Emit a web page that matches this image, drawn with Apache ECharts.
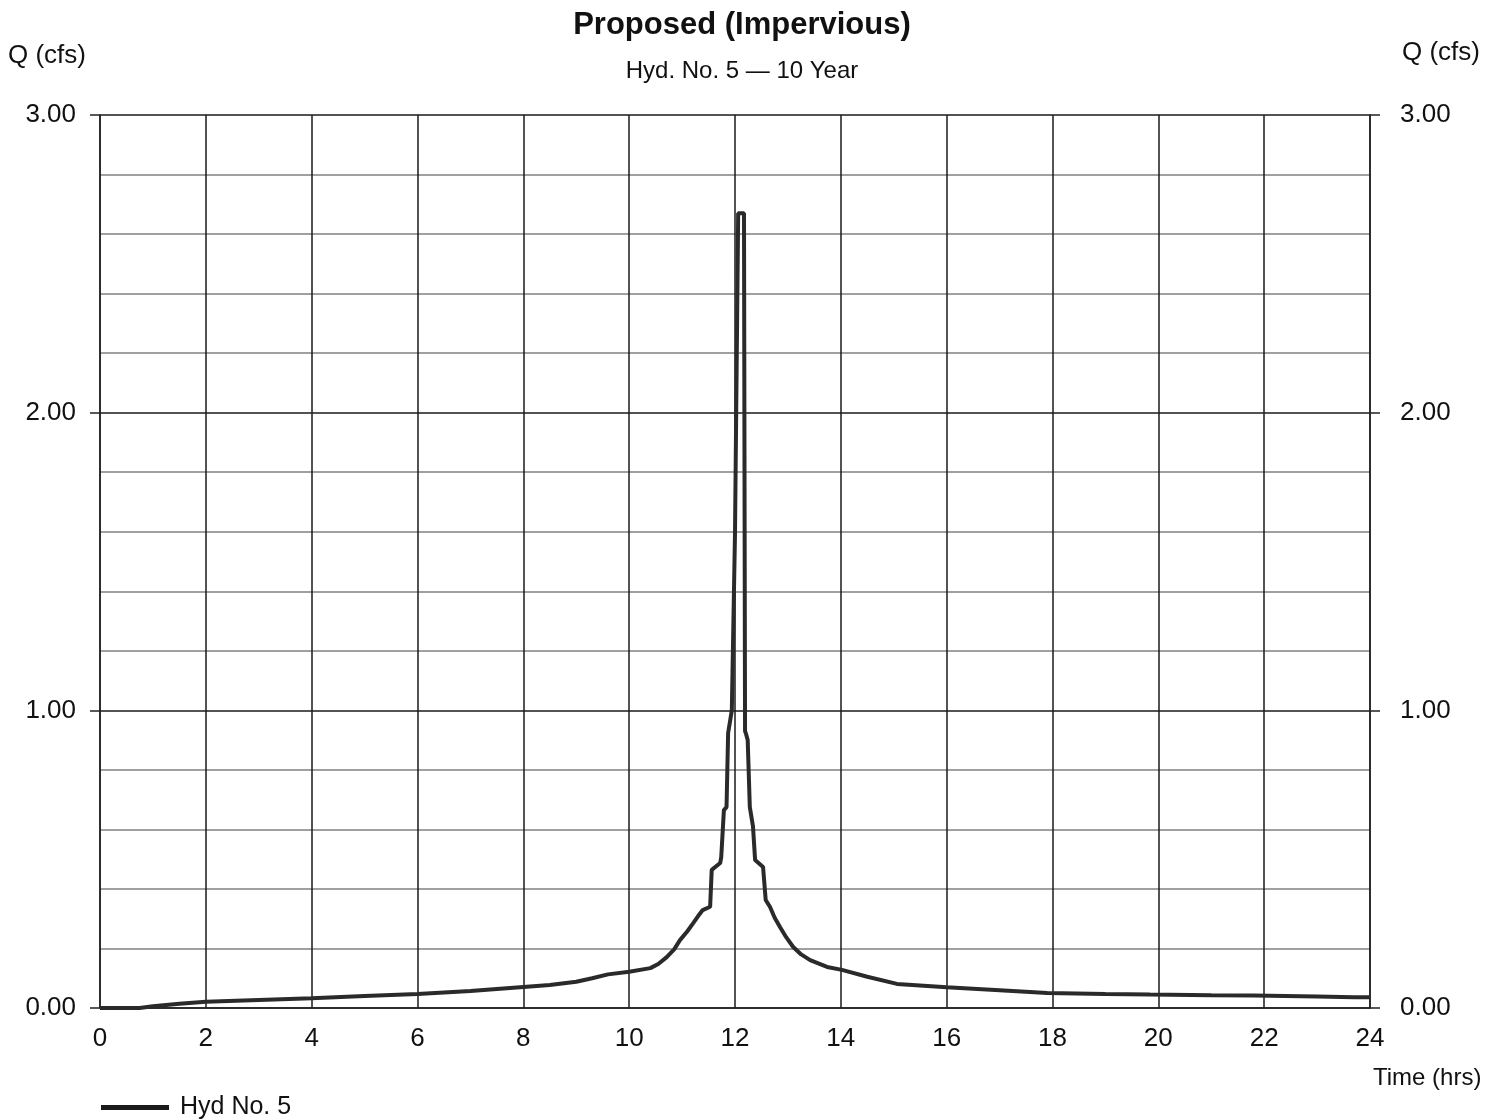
<!DOCTYPE html>
<html>
<head>
<meta charset="utf-8">
<style>html,body{margin:0;padding:0;background:#fff}#c{width:1508px;height:1120px}</style>
<script src="https://cdn.jsdelivr.net/npm/echarts@6/dist/echarts.min.js"></script>
</head>
<body>
<div id="c"></div>
<script>
var times = [0, 0.75, 1.0, 1.5, 2.0, 3.0, 4.0, 5.0, 6.0, 7.0, 7.75, 8.5, 9.0, 9.3, 9.6, 10.0, 10.4, 10.55, 10.71, 10.85, 10.96, 11.1, 11.21, 11.3, 11.39, 11.53, 11.56, 11.72, 11.74, 11.79, 11.84, 11.87, 11.94, 12.0, 12.06, 12.17, 12.19, 12.21, 12.24, 12.28, 12.34, 12.38, 12.53, 12.58, 12.66, 12.75, 12.85, 12.97, 13.1, 13.25, 13.42, 13.74, 14.02, 14.5, 15.06, 16.0, 17.0, 17.9, 19.0, 19.84, 21.0, 21.8, 23.0, 23.7, 24.0];
var flows = [0, 0, 0.006, 0.014, 0.021, 0.027, 0.033, 0.040, 0.047, 0.057, 0.067, 0.077, 0.088, 0.100, 0.113, 0.122, 0.134, 0.148, 0.171, 0.197, 0.228, 0.258, 0.285, 0.308, 0.329, 0.340, 0.464, 0.487, 0.507, 0.665, 0.675, 0.924, 1.00, 1.595, 2.67, 2.67, 0.93, 0.92, 0.90, 0.675, 0.61, 0.497, 0.474, 0.363, 0.340, 0.303, 0.272, 0.237, 0.205, 0.180, 0.161, 0.138, 0.128, 0.105, 0.081, 0.070, 0.060, 0.050, 0.047, 0.045, 0.043, 0.042, 0.039, 0.036, 0.036];
var xTicks = [0, 2, 4, 6, 8, 10, 12, 14, 16, 18, 20, 22, 24];
var yTicks = [0, 1, 2, 3];
var seriesName = 'Hyd No. 5';

var pts = times.map(function (t, i) { return [t, flows[i]]; });
var FONT = '"Liberation Sans", Arial, sans-serif';
var chart = echarts.init(document.getElementById('c'));
var yAxisBase = function (pos) {
  return {
    type: 'value', position: pos, min: yTicks[0], max: yTicks[yTicks.length - 1], interval: 1,
    axisLine: { show: true, lineStyle: { color: '#222', width: 1.5 } },
    axisTick: { show: true, length: 10, lineStyle: { color: '#222', width: 1.5 } },
    axisLabel: { show: true, fontFamily: FONT, fontSize: 26, color: '#111', margin: pos === 'left' ? 24 : 30,
      formatter: function (v) { return v.toFixed(2); } },
    splitLine: { show: pos === 'left', lineStyle: { color: '#1a1a1a', width: 1.5 } },
    minorTick: { show: false, splitNumber: 5 },
    minorSplitLine: { show: pos === 'left', lineStyle: { color: '#a0a0a0', width: 2 } }
  };
};
chart.setOption({
  animation: false,
  backgroundColor: '#fff',
  title: [
    { text: 'Proposed (Impervious)', left: 737, top: 5, textAlign: 'center',
      textStyle: { fontFamily: FONT, fontSize: 31, fontWeight: 'bold', color: '#111' } },
    { text: 'Hyd. No. 5 \u2014 10 Year', left: 737, top: 54, textAlign: 'center',
      textStyle: { fontFamily: FONT, fontSize: 24, fontWeight: 'normal', color: '#111' } }
  ],
  grid: { left: 100, right: 138, top: 115, bottom: 112, containLabel: false },
  legend: {
    left: 96, top: 1090, icon: 'rect', itemWidth: 68, itemHeight: 5, itemGap: 10,
    textStyle: { fontFamily: FONT, fontSize: 25, color: '#111', padding: [0, 0, 0, 6] },
    data: [seriesName]
  },
  xAxis: {
    type: 'value', min: xTicks[0], max: xTicks[xTicks.length - 1], interval: 2,
    axisLine: { show: true, lineStyle: { color: '#222', width: 1.5 } },
    axisTick: { show: false },
    axisLabel: { fontFamily: FONT, fontSize: 26, color: '#111', margin: 18 },
    splitLine: { show: true, lineStyle: { color: '#1a1a1a', width: 1.5 } }
  },
  yAxis: [yAxisBase('left'), yAxisBase('right')],
  graphic: [
    { type: 'text', left: 8, top: 43, style: { text: 'Q (cfs)', font: '26px ' + FONT, fill: '#111' } },
    { type: 'text', left: 1402, top: 40, style: { text: 'Q (cfs)', font: '26px ' + FONT, fill: '#111' } },
    { type: 'text', left: 1373, top: 1066, style: { text: 'Time (hrs)', font: '24px ' + FONT, fill: '#111' } }
  ],
  series: [{
    name: seriesName, type: 'line', data: pts, symbol: 'none', smooth: false,
    lineStyle: { color: '#2a2a2a', width: 4 }, itemStyle: { color: '#1a1a1a' }
  }]
});
</script>
</body>
</html>
